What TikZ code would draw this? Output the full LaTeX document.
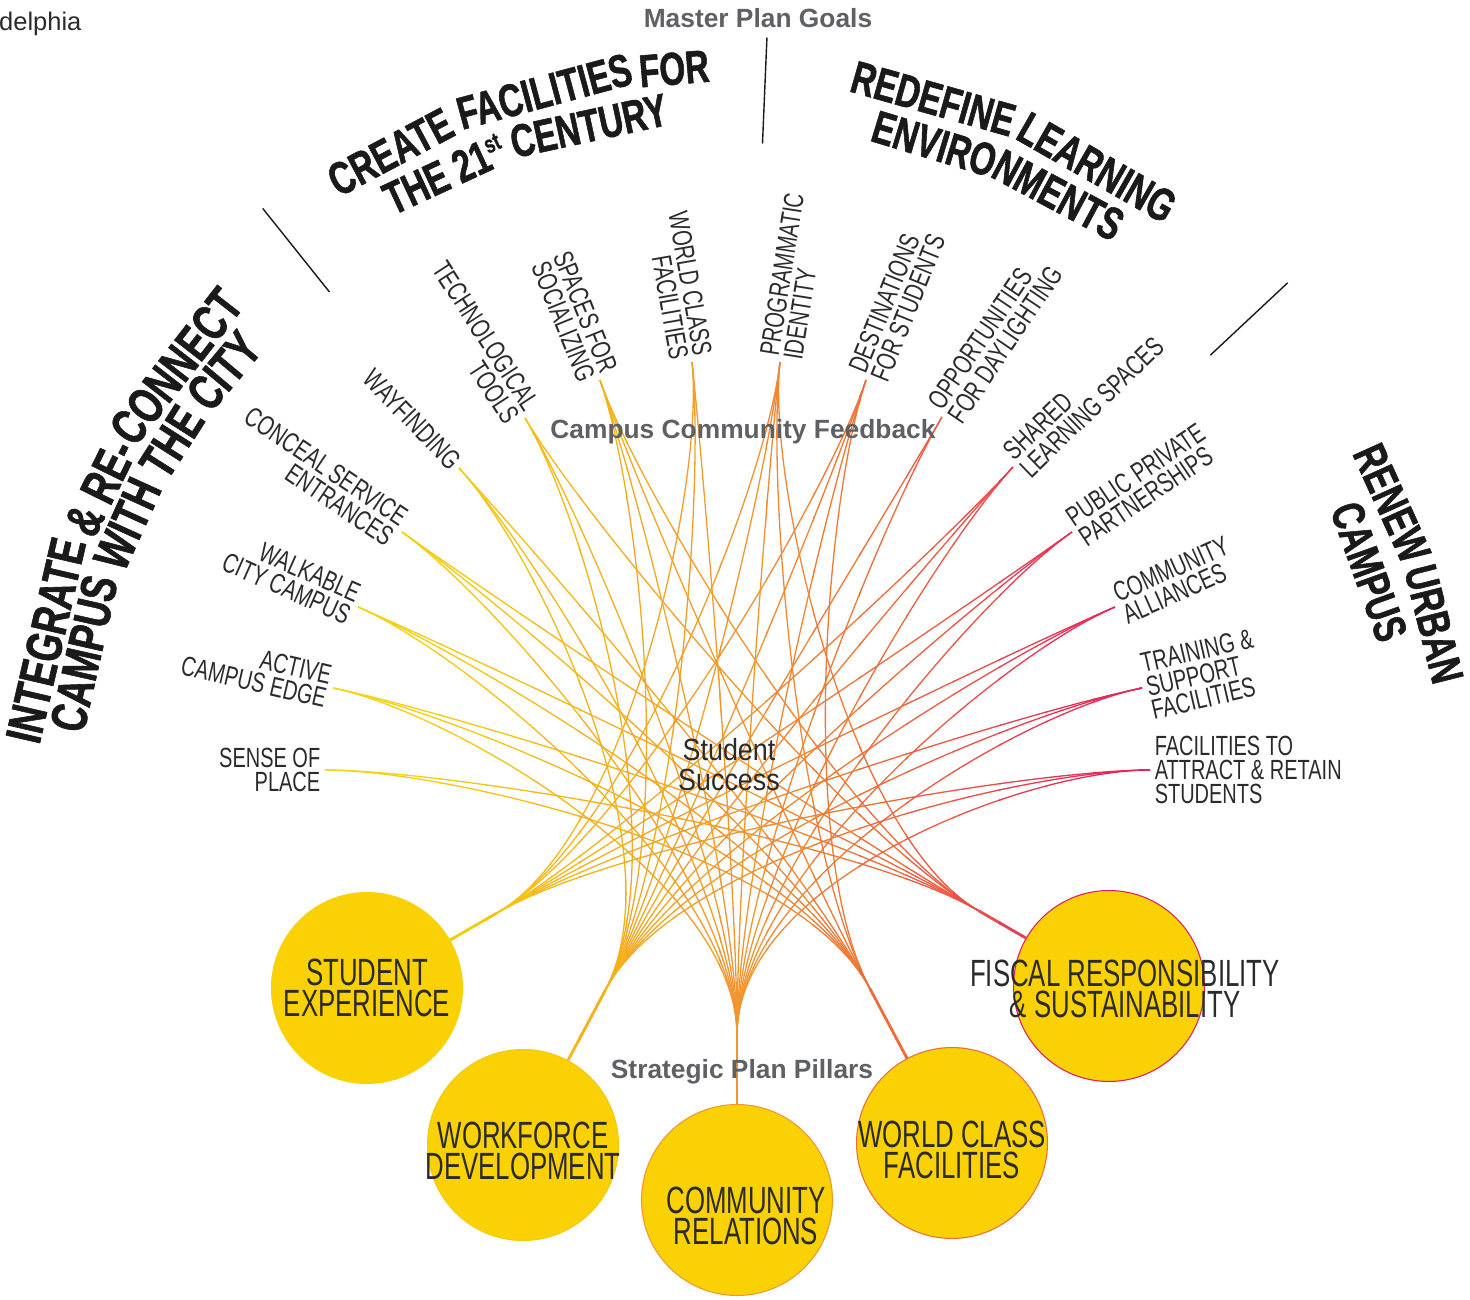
\documentclass[tikz,border=0pt]{standalone}
\usepackage{fontspec}
\setmainfont{Liberation Sans}
\newfontfamily\condfont[FakeStretch=0.72]{Liberation Sans}
\newfontfamily\goalfam[FakeStretch=0.72, BoldFeatures={FakeBold=1.2}]{Liberation Sans}
\newfontfamily\pillfont[FakeStretch=0.68]{Liberation Sans}
\newfontfamily\hubfam[FakeStretch=0.88]{Liberation Sans}
\usetikzlibrary{calc}

\definecolor{goalink}{HTML}{1A1A1A}
\definecolor{labelink}{HTML}{2B2B2B}
\definecolor{titlegray}{HTML}{5F6064}
\definecolor{pillfill}{HTML}{F9D104}
\definecolor{lnA}{HTML}{F3D816}
\definecolor{lnB}{HTML}{F5C90E}
\definecolor{lnC}{HTML}{F5B01C}
\definecolor{lnD}{HTML}{F3952F}
\definecolor{lnE}{HTML}{EF6B3A}
\definecolor{lnF}{HTML}{E93D53}
\definecolor{lnG}{HTML}{E41B5E}

\newcommand\goalfont{\goalfam\bfseries\fontsize{26.2}{26}\selectfont}
\newcommand\goalbig{\goalfam\bfseries\fontsize{28.8}{28}\selectfont}
\newcommand\supfont{\goalfam\bfseries\fontsize{14}{14}\selectfont}
\newcommand\itemfont{\condfont\fontsize{15.8}{13.6}\selectfont}
\newcommand\pillarfont{\pillfont\fontsize{21.6}{17.4}\selectfont}
\newcommand\titlefont{\bfseries\fontsize{15}{15}\selectfont}
\newcommand\hubfont{\hubfam\fontsize{17.4}{17}\selectfont}

% feedback item -> pillar
\newcommand\linklist{i1.east/wcf, i1.east/frs,
  i2.east/cr, i2.east/wcf, i2.east/frs, i3.east/cr, i3.east/wcf, i3.east/frs,
  i4.east/cr, i4.east/wcf, i4.east/frs, i5.east/wd, i5.east/cr, i5.east/wcf,
  i6.east/wd, i6.east/cr, i6.east/frs, i7.east/wd, i7.east/cr, i7.east/wcf, i7.east/frs,
  i8.east/se, i8.east/wd, i8.east/cr,
  i9.west/se, i9.west/wd, i9.west/cr, i9.west/wcf, i9.west/frs,
  i10.west/se, i10.west/wd, i10.west/cr, i10.west/wcf, i11.west/wd, i11.west/cr,
  i12.west/se, i12.west/wd, i12.west/cr, i13.west/se, i13.west/wd, i13.west/cr,
  i14.west/se, i14.west/wd, i14.west/cr, i15.west/se, i15.west/wd, i15.west/cr,
  i16.west/se, i16.west/wd, i16.west/cr}

\begin{document}
\begin{tikzpicture}[x=0.02cm, y=0.02cm,
    goal/.style={font=\goalfont, text=goalink, anchor=base, inner sep=0pt},
    item/.style={font=\itemfont, text=labelink, inner sep=2.5pt},
    pillar/.style={circle, fill=pillfill, minimum size=3.82cm, inner sep=0pt, line width=0.6pt},
    pilltext/.style={font=\pillarfont, text=labelink, align=center},
    link/.style={draw=ln, line width=0.75pt},
    stem/.style={draw=ln, line width=1.6pt},
    plantitle/.style={font=\titlefont, text=titlegray}]
  \useasboundingbox (-735,-499) rectangle (735,800);

  \node[font=\fontsize{14.5}{15}\selectfont, text=labelink, anchor=base west] (city) at (-742,769) {delphia};

  % goals on the outer ring, word by word
  \foreach \ga/\gr/\gw [count=\g] in {166.95/690/INTEGRATE, 153.78/690/{\& RE-}, 142.19/690/CONNECT,
      167.32/650/CAMPUS, 155.56/650/WITH, 147.55/650/THE, 139.98/650/CITY}
    \node[goal, font=\goalbig, rotate=\ga-90] (gl\g) at (\ga:\gr) {\gw};
  \foreach \ga/\gr/\gw [count=\g] in {118.0/718/CREATE, 105.06/718/FACILITIES, 94.76/718/FOR,
      114.91/674/{THE 21\raisebox{9pt}{\supfont st}}, 102.24/674/CENTURY,
      74.21/713/REDEFINE, 60.21/713/LEARNING, 73.09/670/ENVIRO, 61.86/670/NMENTS,
      24.32/705/RENEW, 14.13/705/URBAN, 19.8/658/CAMPUS}
    \node[goal, rotate=\ga-90] (g\g) at (\ga:\gr) {\gw};

  \draw[goalink, line width=0.8pt] (128.6:650) -- (128.6:757);
  \draw[goalink, line width=0.8pt] (87.6:657) -- (87.6:763);
  \draw[goalink, line width=0.8pt] (43.1:651) -- (43.1:757);

  % feedback items
  \foreach \n/\px/\py/\rot/\an/\al/\txt in {
      1/-410/30/0/east/right/{SENSE OF\\PLACE},
      2/-402/112/-13/east/right/{ACTIVE\\CAMPUS EDGE},
      3/-377/193/-24/east/right/{WALKABLE\\CITY CAMPUS},
      4/-333/268/-34/east/right/{CONCEAL SERVICE\\ENTRANCES},
      5/-276/332/-46/east/right/{WAYFINDING},
      6/-210/382/-57/east/right/{TECHNOLOGICAL\\TOOLS},
      7/-135/420/-68/east/right/{SPACES FOR\\SOCIALIZING},
      8/-43/438/-80/east/right/{WORLD CLASS\\FACILITIES},
      9/45/438/81/west/left/{PROGRAMMATIC\\IDENTITY},
      10/131/420/68/west/left/{DESTINATIONS\\FOR STUDENTS},
      11/207/383/56/west/left/{OPPORTUNITIES\\FOR DAYLIGHTING},
      12/278/333/44/west/left/{SHARED\\LEARNING SPACES},
      13/337/268/34/west/left/{PUBLIC PRIVATE\\PARTNERSHIPS},
      14/380/193/24/west/left/{COMMUNITY\\ALLIANCES},
      15/407/112/13/west/left/{TRAINING \&\\SUPPORT\\FACILITIES},
      16/415/30/0/west/left/{FACILITIES TO\\ATTRACT \& RETAIN\\STUDENTS}}
    \node[item, rotate=\rot, anchor=\an, align=\al] (i\n) at (\px,\py) {\txt};

  % pillars
  \node[pillar, draw=pillfill, label={[pilltext]center:{STUDENT\\EXPERIENCE}}] (se) at (-368,-188) {};
  \node[pillar, draw=lnB, label={[pilltext, yshift=-0.12cm]center:{WORKFORCE\\DEVELOPMENT}}] (wd) at (-212,-345) {};
  \node[pillar, draw=lnD, label={[pilltext, xshift=0.18cm, yshift=-0.32cm]center:{COMMUNITY\\RELATIONS}}] (cr) at (2,-400) {};
  \node[pillar, draw=lnE, label={[pilltext, yshift=-0.14cm]center:{WORLD CLASS\\FACILITIES}}] (wcf) at (217,-343) {};
  \node[pillar, draw=lnG, label={[pilltext, xshift=0.32cm, yshift=-0.06cm]center:{FISCAL RESPONSIBILITY\\\& SUSTAINABILITY}}] (frs) at (374,-186) {};

  \coordinate (hub) at (0,30);
  \foreach \pl/\ang/\dt/\dc in {se/30/150/300, wd/62/175/330, cr/90/165/320, wcf/118/175/330, frs/150/150/300} {
    \coordinate (\pl tip) at ($(\pl)+(\ang:\dt)$);
    \coordinate (\pl ctl) at ($(\pl)+(\ang:\dc)$);
  }

  % links, coloured strip by strip from left to right
  \foreach \xs/\ca/\cb in {300/lnA/lnB, 440/lnB/lnC, 580/lnC/lnD, 720/lnD/lnE, 860/lnE/lnF, 1000/lnF/lnG, 1140/lnG/lnG} {
    \foreach \k in {0,1,2} {
      \pgfmathtruncatemacro\pct{100-33*\k}
      \colorlet{ln}{\ca!\pct!\cb}
      \begin{scope}
        \clip (\xs-736+47*\k,-499) rectangle ++(48,1299);
        \foreach \src/\pl in \linklist
          \draw[link] (\src) .. controls ($(\src)!0.3!(hub)$) and (\pl ctl) .. (\pl tip);
        \foreach \pl/\ang in {se/30, wd/62, cr/90, wcf/118, frs/150}
          \draw[stem] (\pl tip) -- (\pl.\ang);
      \end{scope}
    }
  }

  \node[plantitle] (goals) at (23,782) {Master Plan Goals};
  \node[plantitle] (feedback) at (8,368) {Campus Community Feedback};
  \node[plantitle] (pillars) at (7,-272) {Strategic Plan Pillars};
  \node[font=\hubfont, text=labelink, align=center] (success) at (-6,35) {Student\\Success};
\end{tikzpicture}
\end{document}
